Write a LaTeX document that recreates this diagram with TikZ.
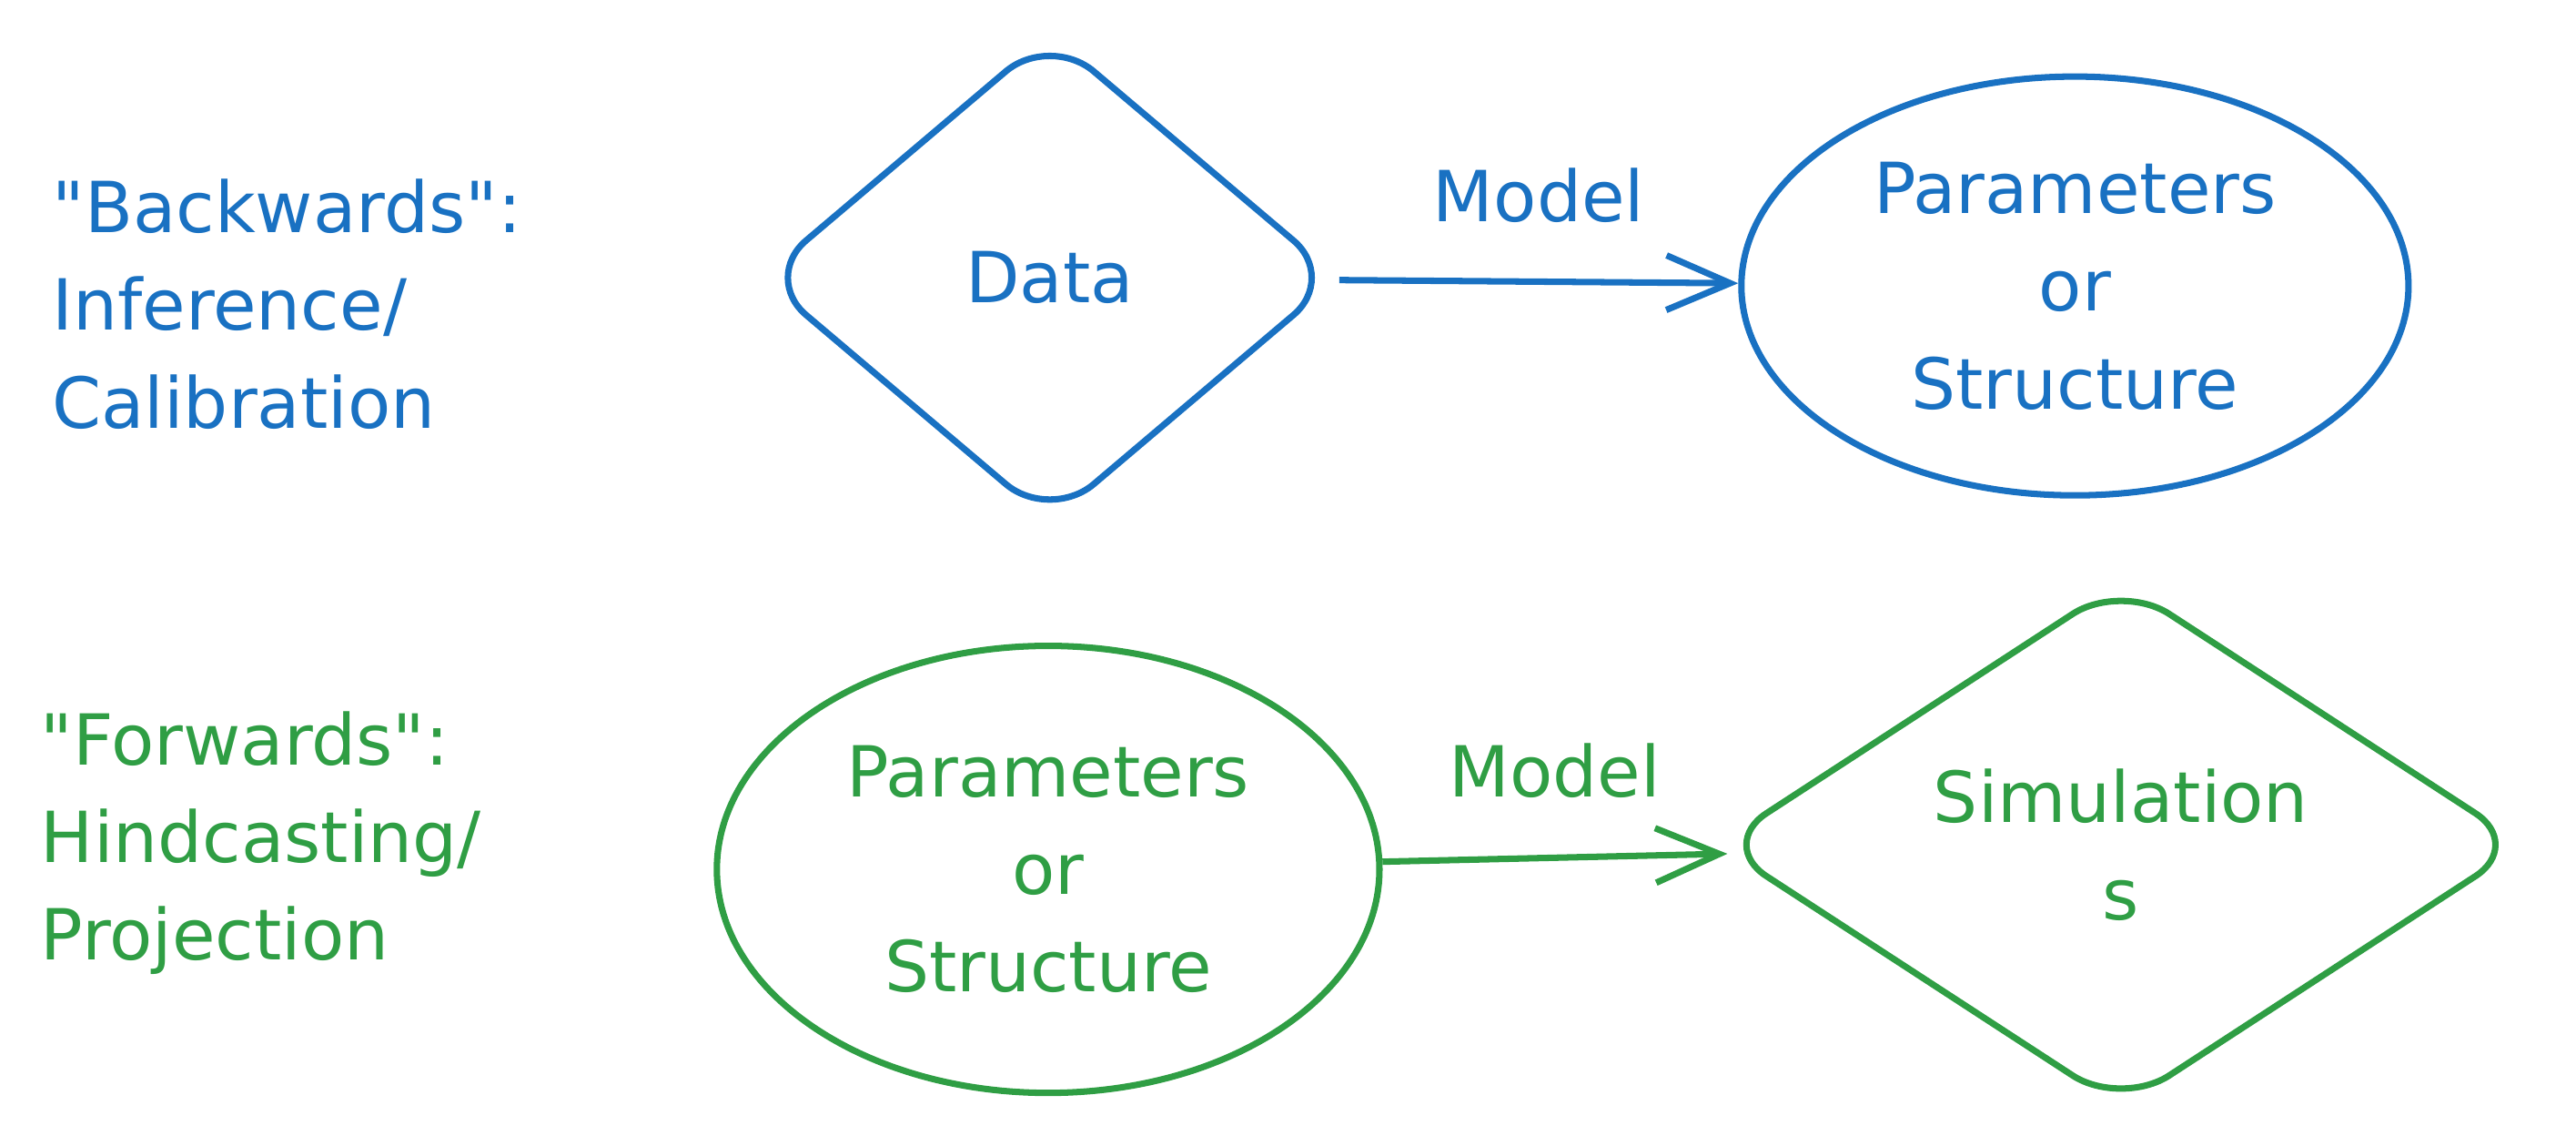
\documentclass[tikz,border=0pt]{standalone}
\usepackage{fontspec}
\setmainfont{DejaVu Sans}
\usetikzlibrary{shapes.geometric}
\usetikzlibrary{arrows.meta}
\definecolor{xblue}{HTML}{1971C2}
\definecolor{xgreen}{HTML}{2F9E44}

\begin{document}
\begin{tikzpicture}[x=0.018055cm, y=-0.018055cm,
  every node/.style={font=\fontsize{22}{30.5}\selectfont},
  box/.style={draw, line width=2pt, align=center, inner sep=0pt},
  rhomb/.style={box, diamond, rounded corners=18pt},
  oval/.style={box, ellipse},
  link/.style={line width=2pt, -{Straight Barb[length=7mm, width=6mm, line width=2pt]}}]
\useasboundingbox (0,0) rectangle (1568,697);

% backwards
\node[anchor=west, align=left, text=xblue] (back) at (25,185) {\textquotedbl Backwards\textquotedbl:\\Inference/\\Calibration};
\node[rhomb, xblue, minimum width=6.35cm, minimum height=5.38cm] (data) at (639,169) {Data};
\node[oval, xblue, minimum width=7.33cm, minimum height=4.6cm] (par1) at (1263,174) {Parameters\\or\\Structure};
\draw[link, xblue] (data) -- node[midway, above=5mm] (m1) {Model} (par1);

% forwards
\node[anchor=west, align=left, text=xgreen] (fwd) at (18,513) {\textquotedbl Forwards\textquotedbl:\\Hindcasting/\\Projection};
\node[oval, xgreen, minimum width=7.28cm, minimum height=4.91cm] (par2) at (638,529) {Parameters\\or\\Structure};
\node[rhomb, xgreen, minimum width=8.88cm, minimum height=5.56cm] (sim) at (1291,514) {Simulation\\s};
\draw[link, xgreen] (par2) -- node[midway, above=5mm] (m2) {Model} (sim);
\end{tikzpicture}
\end{document}
